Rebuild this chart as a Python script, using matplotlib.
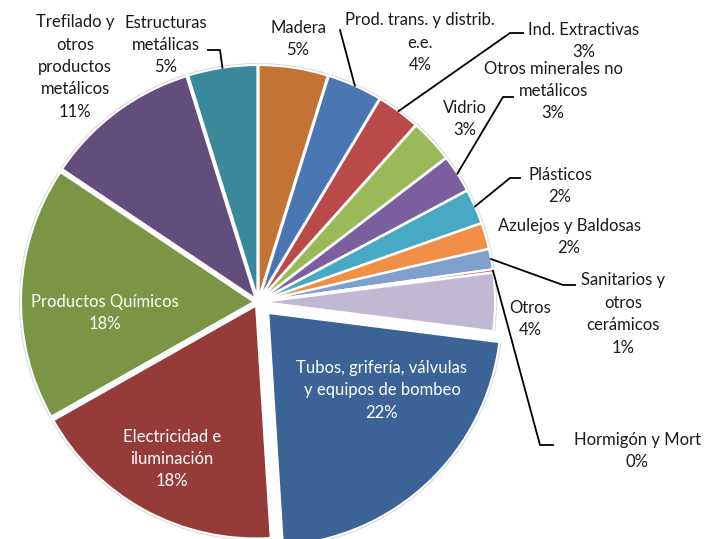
import numpy as np
import matplotlib.pyplot as plt

# sectors, clockwise from 12 o'clock
sectores = ['Madera', 'Prod. trans. y distrib.\ne.e.', 'Ind. Extractivas', 'Vidrio',
            'Otros minerales no\nmetálicos', 'Plásticos', 'Azulejos y Baldosas',
            'Sanitarios y\notros\ncerámicos', 'Hormigón y Mort', 'Otros',
            'Tubos, grifería, válvulas\ny equipos de bombeo', 'Electricidad e\niluminación',
            'Productos Químicos', 'Trefilado y\notros\nproductos\nmetálicos',
            'Estructuras\nmetálicas']
porcentajes = [4.8, 3.8, 3.0, 3.0, 2.6, 2.4, 1.8, 1.4, 0.2, 4.0, 22.0, 17.8, 17.6, 10.8, 4.8]
colores = ['#C37434', '#4A76B4', '#BA4A48', '#9ABA5A', '#7B5F9E', '#47A9C3', '#F08F45',
           '#7F9FCD', '#C85A5A', '#C1B8D3', '#3B6396', '#953B3A', '#7A9544', '#634D7D',
           '#3A889B']

W, H = 705, 539
cx, cy, R = 258, 302, 233
separacion = [4] * len(porcentajes)
separacion[10] = 15  # Tubos pulled out further

# label placement in pixels (x, y, inside?) and leader line bend points
pos_etiquetas = [(298, 39, False), (420, 43, False), (584, 41, False), (465, 119, False),
                 (553, 91, False), (560, 186, False), (569, 237, False), (623, 314, False),
                 (637, 451, False), (530, 319, False), (382, 390, True), (172, 459, True),
                 (105, 313, True), (75, 67, False), (166, 45, False)]
guias = {1: [(340, 30)], 2: [(510, 33), (523, 33)], 4: [(503, 97), (513, 97)],
         5: [(510, 178), (520, 178)], 7: [(563, 285), (575, 285)],
         8: [(540, 445), (553, 445)], 14: [(220, 50), (208, 50)]}

plt.rcParams['font.family'] = ['Lato', 'DejaVu Sans']
fig = plt.figure(figsize=(W / 100, H / 100), dpi=100)
ax = fig.add_axes([0, 0, 1, 1])

# faint shadow edge, then the coloured wedges
ax.pie(porcentajes, colors=['#d9d9d9'] * len(porcentajes), startangle=90, counterclock=False,
       center=(cx, H - cy), radius=R + 2, explode=separacion,
       wedgeprops=dict(edgecolor='none'))
wedges, _ = ax.pie(porcentajes, colors=colores, startangle=90, counterclock=False,
                   center=(cx, H - cy), radius=R, explode=separacion,
                   wedgeprops=dict(edgecolor='white', linewidth=1.5))
ax.set_xlim(0, W)
ax.set_ylim(0, H)
ax.set_aspect('equal')
ax.axis('off')

for i, (nombre, v) in enumerate(zip(sectores, porcentajes)):
    x, y, dentro = pos_etiquetas[i]
    ax.text(x, H - y, f'{nombre}\n{round(v)}%', ha='center', va='center',
            fontsize=12, linespacing=1.5, color='white' if dentro else '#1a1a1a')
    if i in guias:
        w = wedges[i]
        ang = np.deg2rad((w.theta1 + w.theta2) / 2)
        x0 = w.center[0] + w.r * np.cos(ang)
        y0 = w.center[1] + w.r * np.sin(ang)
        pts = [(x0, y0)] + [(px, H - py) for px, py in guias[i]]
        ax.plot([p[0] for p in pts], [p[1] for p in pts], color='black', lw=1.3)

fig.savefig('out.png', dpi=100)
